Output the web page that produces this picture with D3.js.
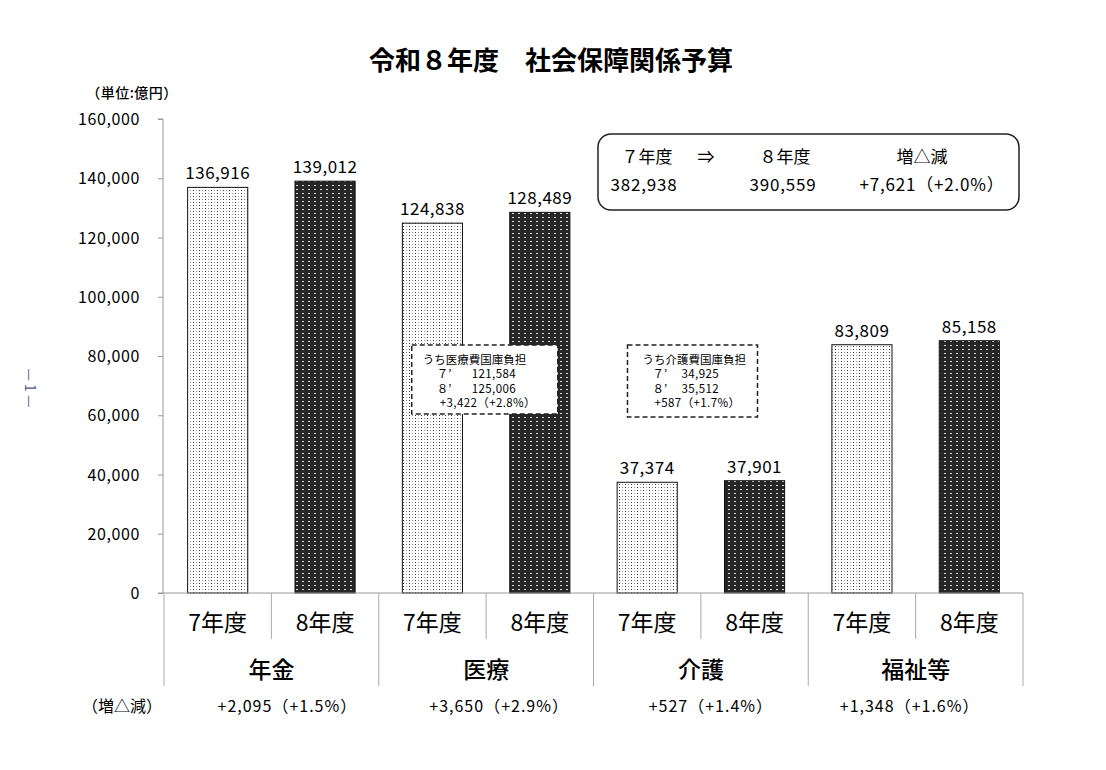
<!DOCTYPE html>
<html>
<head>
<meta charset="utf-8">
<script src="https://cdn.jsdelivr.net/npm/d3@7/dist/d3.min.js"></script>
<style>
  html, body { margin: 0; padding: 0; background: #fff; }
  svg { display: block; font-family: "Noto Sans CJK JP", "Noto Sans", sans-serif; }
</style>
</head>
<body>
<svg id="chart" width="1106" height="770"></svg>
<script>
// ---- data ----
const categories = ["年金", "医療", "介護", "福祉等"];
const years = ["7年度", "8年度"];
const values7 = [136916, 124838, 37374, 83809];
const values8 = [139012, 128489, 37901, 85158];
const changes = ["+2,095（+1.5%）", "+3,650（+2.9%）", "+527（+1.4%）", "+1,348（+1.6%）"];
const yTicks = [0, 20000, 40000, 60000, 80000, 100000, 120000, 140000, 160000];
const totalHeaders = ["７年度", "⇒", "８年度", "増△減"];
const totalValues = ["382,938", "", "390,559", "+7,621（+2.0%）"];
const subNotes = [
  { cat: "医療", title: "うち医療費国庫負担", r7: "121,584", r8: "125,006", diff: "+3,422（+2.8%）" },
  { cat: "介護", title: "うち介護費国庫負担", r7: "34,925", r8: "35,512", diff: "+587（+1.7%）" }
];

const fmt = d3.format(",");
const svg = d3.select("#chart");

// ---- patterns ----
const defs = svg.append("defs");
const pLight = defs.append("pattern").attr("id", "pLight")
  .attr("patternUnits", "userSpaceOnUse").attr("width", 6).attr("height", 3);
pLight.append("rect").attr("width", 6).attr("height", 3).attr("fill", "#fff");
pLight.append("rect").attr("x", 1).attr("y", 1).attr("width", 1).attr("height", 1).attr("fill", "#333");
pLight.append("rect").attr("x", 4).attr("y", 1).attr("width", 1).attr("height", 1).attr("fill", "#999");

const pDark = defs.append("pattern").attr("id", "pDark")
  .attr("patternUnits", "userSpaceOnUse").attr("width", 6).attr("height", 4);
pDark.append("rect").attr("width", 6).attr("height", 4).attr("fill", "#262626");
pDark.append("rect").attr("x", 2).attr("y", 1).attr("width", 2).attr("height", 1).attr("fill", "#ddd");

// ---- scales ----
const plotLeft = 164, plotRight = 1023, plotTop = 119, plotBottom = 593;
const x = d3.scaleBand().domain(categories).range([plotLeft, plotRight]).padding(0);
const xs = d3.scaleBand().domain(years).range([0, x.bandwidth()]).padding(0);
const y = d3.scaleLinear().domain([0, 160000]).range([plotBottom, plotTop]);
const barW = xs.bandwidth() * 0.56;

// ---- title ----
svg.append("text").attr("x", 551).attr("y", 70).attr("text-anchor", "middle")
  .attr("font-size", 26).attr("font-weight", "bold").text("令和８年度　社会保障関係予算");

svg.append("text").attr("x", 132).attr("y", 98).attr("text-anchor", "middle")
  .attr("font-size", 14).attr("font-weight", 500).attr("letter-spacing", 0.5).text("（単位:億円）");

// ---- y axis ----
const yAxis = svg.append("g").attr("transform", `translate(${plotLeft - 1},0)`)
  .call(d3.axisLeft(y).tickValues(yTicks).tickSize(5).tickPadding(18)
    .tickFormat(d => d === 0 ? "0" : fmt(d)));
yAxis.select(".domain").attr("stroke", "#999").attr("d", `M-5,${plotTop}H0V${plotBottom}`);
yAxis.selectAll(".tick line").attr("stroke", "#999");
yAxis.selectAll(".tick text").attr("font-size", 16).attr("fill", "#000")
  .attr("letter-spacing", 0.6)
  .attr("font-family", "'Noto Sans CJK JP', sans-serif").attr("dy", "0.35em");

// ---- bars ----
const rows = categories.map((c, i) => ({ cat: c, vals: [values7[i], values8[i]] }));
const g = svg.append("g");
rows.forEach(r => {
  r.vals.forEach((v, j) => {
    const cx = x(r.cat) + xs(years[j]) + xs.bandwidth() / 2;
    g.append("rect")
      .attr("x", cx - barW / 2).attr("y", y(v))
      .attr("width", barW).attr("height", plotBottom - y(v))
      .attr("fill", j === 0 ? "url(#pLight)" : "url(#pDark)")
      .attr("stroke", "#111").attr("stroke-width", 1);
    g.append("text").attr("x", cx).attr("y", y(v) - 8)
      .attr("text-anchor", "middle").attr("font-size", 17).attr("letter-spacing", 0.5).text(fmt(v));
  });
});

// ---- x axis line and separators ----
svg.append("line").attr("x1", plotLeft - 6).attr("x2", plotRight)
  .attr("y1", plotBottom).attr("y2", plotBottom).attr("stroke", "#999");
categories.forEach(c => {
  svg.append("line").attr("x1", x(c)).attr("x2", x(c))
    .attr("y1", plotBottom).attr("y2", 686).attr("stroke", "#aaa");
  svg.append("line").attr("x1", x(c) + xs("8年度")).attr("x2", x(c) + xs("8年度"))
    .attr("y1", plotBottom).attr("y2", 639).attr("stroke", "#aaa");
});
svg.append("line").attr("x1", plotRight).attr("x2", plotRight)
  .attr("y1", plotBottom).attr("y2", 686).attr("stroke", "#aaa");

const changeShift = [16, 13, 10, -6];
categories.forEach((c, i) => {
  years.forEach(yr => {
    svg.append("text").attr("x", x(c) + xs(yr) + xs.bandwidth() / 2).attr("y", 631)
      .attr("text-anchor", "middle").attr("font-size", 23).text(yr);
  });
  svg.append("text").attr("x", x(c) + x.bandwidth() / 2).attr("y", 678)
    .attr("text-anchor", "middle").attr("font-size", 23).attr("font-weight", 500).text(c);
  svg.append("text").attr("x", x(c) + x.bandwidth() / 2 + changeShift[i]).attr("y", 712)
    .attr("text-anchor", "middle").attr("font-size", 16).attr("letter-spacing", 1).text(changes[i]);
});
svg.append("text").attr("x", 122).attr("y", 712).attr("text-anchor", "middle")
  .attr("font-size", 16).text("（増△減）");

// ---- totals box ----
svg.append("rect").attr("x", 598).attr("y", 134).attr("width", 421).attr("height", 76)
  .attr("rx", 13).attr("ry", 13).attr("fill", "#fff").attr("stroke", "#222").attr("stroke-width", 1.5);
const hx = [647, 706, 785, 922];
const vx = [644, 706, 783, 932];
totalHeaders.forEach((t, i) => {
  svg.append("text").attr("x", hx[i]).attr("y", 163).attr("text-anchor", "middle")
    .attr("font-size", 17).text(t);
});
totalValues.forEach((t, i) => {
  if (!t) return;
  svg.append("text").attr("x", vx[i]).attr("y", 191).attr("text-anchor", "middle")
    .attr("font-size", 17).attr("letter-spacing", 0.8).text(t);
});

// ---- sub note boxes ----
const noteTop = y(83700);
subNotes.forEach((n, k) => {
  const bx = x(n.cat) + (k === 0 ? 33 : 34);
  const bw = k === 0 ? 146 : 130;
  const bh = k === 0 ? 69 : 72;
  const ng = svg.append("g");
  ng.append("rect").attr("x", bx).attr("y", noteTop).attr("width", bw).attr("height", bh)
    .attr("fill", "#fff").attr("stroke", "#222").attr("stroke-width", 1.5)
    .attr("stroke-dasharray", "5,3");
  const lx = k === 0 ? 11 : 15;
  const fs = 11.5;
  ng.append("text").attr("x", bx + lx).attr("y", noteTop + 19).attr("font-size", fs).text(n.title);
  ng.append("text").attr("x", bx + 25).attr("y", noteTop + 33).attr("font-size", fs).text("７’");
  ng.append("text").attr("x", bx + (k === 0 ? 60 : 54)).attr("y", noteTop + 33).attr("font-size", fs).attr("letter-spacing", 0.4).text(n.r7);
  ng.append("text").attr("x", bx + 25).attr("y", noteTop + 48).attr("font-size", fs).text("８’");
  ng.append("text").attr("x", bx + (k === 0 ? 60 : 54)).attr("y", noteTop + 48).attr("font-size", fs).attr("letter-spacing", 0.4).text(n.r8);
  ng.append("text").attr("x", bx + (k === 0 ? 28 : 27)).attr("y", noteTop + 62).attr("font-size", fs).attr("letter-spacing", 0.4).text(n.diff);
});

// ---- page marker ----
svg.append("text").attr("transform", "translate(25,388) rotate(90)")
  .attr("text-anchor", "middle").attr("font-size", 14).attr("fill", "#4a5a80")
  .text("— 1 —");
</script>
</body>
</html>
